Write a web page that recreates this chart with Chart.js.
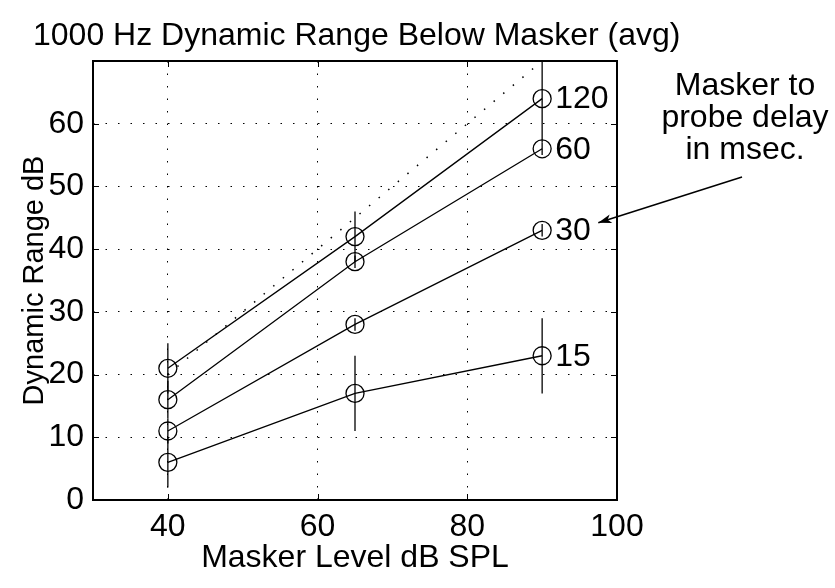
<!DOCTYPE html>
<html>
<head>
<meta charset="utf-8">
<script src="https://cdn.jsdelivr.net/npm/chart.js@4"></script>
<style>
  html, body { margin: 0; padding: 0; background: #fff; }
  #wrap { width: 835px; height: 588px; }
</style>
</head>
<body>
<div id="wrap"><canvas id="chart"></canvas></div>
<script>
const maskerLevels = [40, 65, 90];
const seriesNames = ["120", "60", "30", "15"];
const delay120 = [21, 42, 64];
const delay60 = [16, 38, 56];
const delay30 = [11, 28, 43];
const delay15 = [6, 17, 23];
// half-length of the vertical error bars
const err120 = [4, 4, 7];
const err60 = [3, 1, 1];
const err30 = [2, 1, 1];
const err15 = [4, 6, 6];
// dotted reference line
const refX = [40, 90];
const refY = [20, 70];
const xTicks = [40, 60, 80, 100];
const yTicks = [0, 10, 20, 30, 40, 50, 60];
const titleText = "1000 Hz Dynamic Range Below Masker (avg)";
const noteLines = ["Masker to", "probe delay", "in msec."];

const FONT = "'Liberation Sans', Arial, Helvetica, sans-serif";
const FS = 32;
const allSeries = [delay120, delay60, delay30, delay15];
const allErr = [err120, err60, err30, err15];

function toPoints(xs, ys) {
  return xs.map((x, i) => ({ x: x, y: ys[i] }));
}

const datasets = allSeries.map((vals, i) => ({
  label: seriesNames[i],
  data: toPoints(maskerLevels, vals),
  borderColor: "#000",
  borderWidth: 1.3,
  pointRadius: 9,
  pointHoverRadius: 9,
  pointBorderWidth: 1.3,
  pointBorderColor: "#000",
  pointBackgroundColor: "rgba(0,0,0,0)",
  errors: allErr[i],
  fill: false,
  tension: 0
}));

datasets.push({
  label: "ref",
  data: toPoints(refX, refY),
  borderColor: "#000",
  borderWidth: 1.5,
  borderDash: [1.5, 11],
  pointRadius: 0,
  fill: false
});

const matlabLook = {
  id: "matlabLook",
  beforeDraw(chart) {
    const ctx = chart.ctx;
    ctx.save();
    ctx.fillStyle = "#fff";
    ctx.fillRect(0, 0, chart.width, chart.height);
    ctx.restore();
  },
  afterDatasetsDraw(chart) {
    const ctx = chart.ctx;
    const xs = chart.scales.x, ys = chart.scales.y;
    const a = chart.chartArea;

    // error bars
    ctx.save();
    ctx.beginPath();
    ctx.rect(a.left, a.top, a.right - a.left, a.bottom - a.top);
    ctx.clip();
    ctx.strokeStyle = "#000";
    ctx.lineWidth = 1.3;
    chart.data.datasets.forEach(ds => {
      if (!ds.errors) return;
      ds.data.forEach((p, i) => {
        const px = xs.getPixelForValue(p.x);
        ctx.beginPath();
        ctx.moveTo(px, ys.getPixelForValue(p.y - ds.errors[i]));
        ctx.lineTo(px, ys.getPixelForValue(p.y + ds.errors[i]));
        ctx.stroke();
      });
    });
    ctx.restore();

    // box and inward ticks
    ctx.save();
    ctx.strokeStyle = "#000";
    ctx.lineWidth = 2;
    ctx.strokeRect(a.left, a.top, a.right - a.left, a.bottom - a.top);
    ctx.lineWidth = 1;
    ctx.beginPath();
    xTicks.forEach(v => {
      const px = Math.round(xs.getPixelForValue(v)) + 0.5;
      ctx.moveTo(px, a.bottom); ctx.lineTo(px, a.bottom - 6);
      ctx.moveTo(px, a.top); ctx.lineTo(px, a.top + 6);
    });
    yTicks.forEach(v => {
      const py = Math.round(ys.getPixelForValue(v)) + 0.5;
      ctx.moveTo(a.left, py); ctx.lineTo(a.left + 6, py);
      ctx.moveTo(a.right, py); ctx.lineTo(a.right - 6, py);
    });
    ctx.stroke();
    ctx.restore();

    // series labels at the last point
    ctx.save();
    ctx.fillStyle = "#000";
    ctx.font = FS + "px " + FONT;
    ctx.textBaseline = "middle";
    ctx.textAlign = "left";
    chart.data.datasets.forEach(ds => {
      if (!ds.errors) return;
      const last = ds.data[ds.data.length - 1];
      ctx.fillText(ds.label, xs.getPixelForValue(last.x) + 13, ys.getPixelForValue(last.y) + 1);
    });
    ctx.restore();
  },
  afterDraw(chart) {
    const ctx = chart.ctx;
    const xs = chart.scales.x, ys = chart.scales.y;
    ctx.save();
    ctx.fillStyle = "#000";
    ctx.font = FS + "px " + FONT;
    ctx.textBaseline = "alphabetic";
    ctx.textAlign = "left";
    ctx.fillText(titleText, 33, 45);

    ctx.textAlign = "center";
    ctx.textBaseline = "middle";
    noteLines.forEach((t, i) => ctx.fillText(t, 745, 86 + i * 32));

    // arrow from the note to the "30" label
    const x0 = xs.getPixelForValue(116.7), y0 = ys.getPixelForValue(51.5);
    const x1 = xs.getPixelForValue(97.5), y1 = ys.getPixelForValue(44.2);
    ctx.strokeStyle = "#000";
    ctx.lineWidth = 1.5;
    ctx.beginPath();
    ctx.moveTo(x0, y0);
    ctx.lineTo(x1, y1);
    ctx.stroke();
    const ang = Math.atan2(y1 - y0, x1 - x0);
    const len = 14, wid = 0.32;
    ctx.beginPath();
    ctx.moveTo(x1, y1);
    ctx.lineTo(x1 - len * Math.cos(ang - wid), y1 - len * Math.sin(ang - wid));
    ctx.lineTo(x1 - len * 0.7 * Math.cos(ang), y1 - len * 0.7 * Math.sin(ang));
    ctx.lineTo(x1 - len * Math.cos(ang + wid), y1 - len * Math.sin(ang + wid));
    ctx.closePath();
    ctx.fill();
    ctx.restore();
  }
};

new Chart(document.getElementById("chart"), {
  type: "line",
  data: { datasets: datasets },
  options: {
    responsive: true,
    maintainAspectRatio: false,
    animation: false,
    events: [],
    layout: { padding: { left: 0, top: 61, right: 218, bottom: 0 } },
    plugins: { legend: { display: false }, tooltip: { enabled: false } },
    scales: {
      x: {
        type: "linear",
        min: 30,
        max: 100,
        afterBuildTicks: s => { s.ticks = xTicks.map(v => ({ value: v })); },
        afterFit: s => { s.height = 88; },
        border: { display: false, dash: [1.5, 11] },
        grid: {
          color: "#000",
          lineWidth: 1,
          drawTicks: false
        },
        ticks: {
          padding: 8,
          color: "#000",
          font: { family: FONT, size: FS }
        },
        title: {
          display: true,
          text: "Masker Level dB SPL",
          color: "#000",
          font: { family: FONT, size: FS },
          padding: { top: 0, bottom: 11 }
        }
      },
      y: {
        type: "linear",
        min: 0,
        max: 70,
        afterBuildTicks: s => { s.ticks = yTicks.map(v => ({ value: v })); },
        afterFit: s => { s.width = 93; },
        border: { display: false, dash: [1.5, 11] },
        grid: {
          color: "#000",
          lineWidth: 1,
          drawTicks: false
        },
        ticks: {
          padding: 9,
          color: "#000",
          font: { family: FONT, size: FS }
        },
        title: {
          display: true,
          text: "Dynamic Range dB",
          color: "#000",
          font: { family: FONT, size: 29 },
          padding: { top: 18, bottom: 0 }
        }
      }
    }
  },
  plugins: [matlabLook]
});
</script>
</body>
</html>
